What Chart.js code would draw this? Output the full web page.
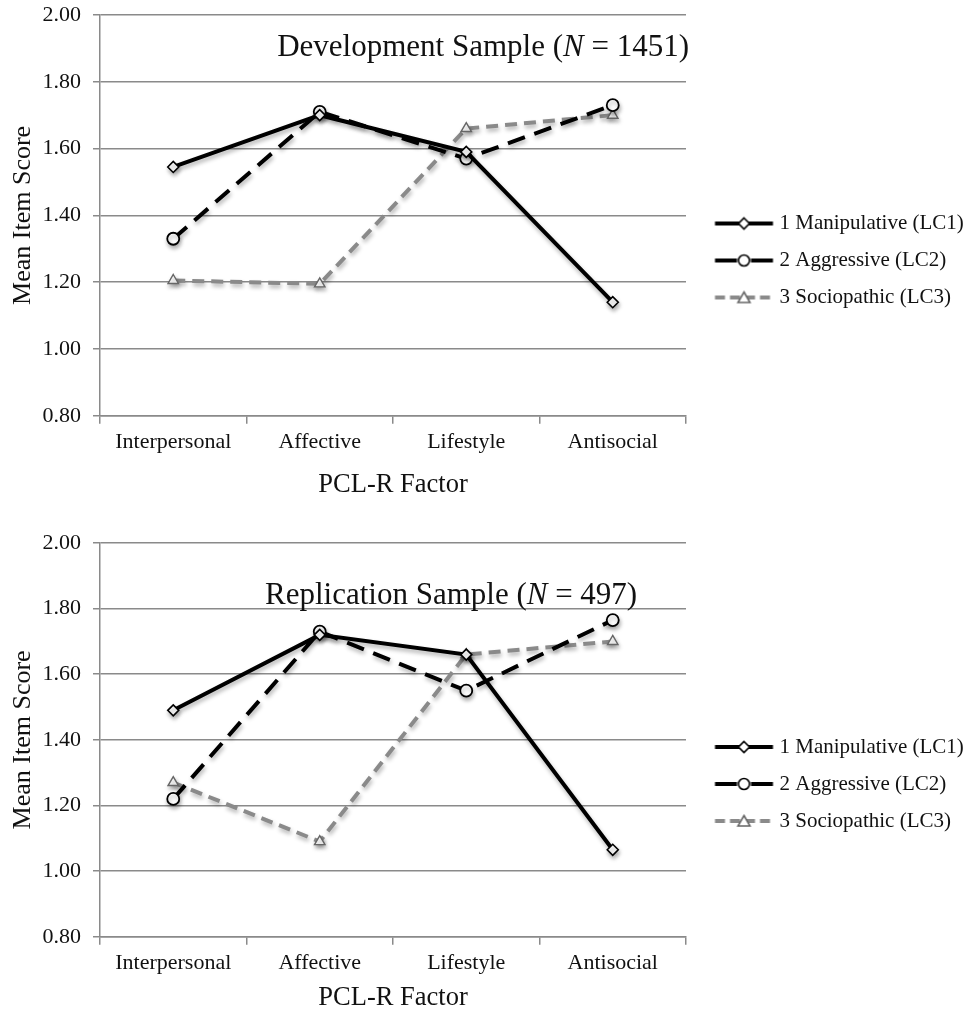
<!DOCTYPE html>
<html>
<head>
<meta charset="utf-8">
<script src="https://cdn.jsdelivr.net/npm/chart.js@4.4.0/dist/chart.umd.min.js"></script>
<style>
  body { margin: 0; background: #fff; }
  #top { position: absolute; left: 0; top: 0; width: 972px; height: 505px; }
  #bottom { position: absolute; left: 0; top: 505px; width: 972px; height: 505px; }
</style>
</head>
<body>
<div id="top"><canvas id="devChart"></canvas></div>
<div id="bottom"><canvas id="repChart"></canvas></div>
<script>
'use strict';

// data
const factors = ['Interpersonal', 'Affective', 'Lifestyle', 'Antisocial'];
const classNames = ['1 Manipulative (LC1)', '2 Aggressive (LC2)', '3 Sociopathic (LC3)'];
const yMin = 0.8;
const yMax = 2.0;
const yStep = 0.2;

const devLC1 = [1.545, 1.70, 1.59, 1.14];
const devLC2 = [1.33, 1.71, 1.57, 1.73];
const devLC3 = [1.205, 1.195, 1.66, 1.70];

const repLC1 = [1.49, 1.72, 1.66, 1.065];
const repLC2 = [1.22, 1.73, 1.55, 1.765];
const repLC3 = [1.27, 1.09, 1.66, 1.70];

const GRAY = '#8a8a8a';
const FONT = "'Liberation Serif', 'Times New Roman', serif";

Chart.defaults.font.family = FONT;
Chart.defaults.color = '#111';

// legend icon: line with the marker in the middle (icon sits right of centre in a wider canvas)
function makeIcon(color, dashed, marker) {
  const c = document.createElement('canvas');
  c.width = 120;
  c.height = 16;
  const g = c.getContext('2d');
  const x0 = 39.5;
  const mid = x0 + 29;
  g.strokeStyle = color;
  g.lineWidth = 4;
  if (dashed === 'long') {
    g.beginPath(); g.moveTo(x0, 8); g.lineTo(x0 + 22, 8); g.stroke();
    g.beginPath(); g.moveTo(x0 + 36, 8); g.lineTo(x0 + 58, 8); g.stroke();
  } else if (dashed === 'short') {
    g.setLineDash([10, 5]);
    g.beginPath(); g.moveTo(x0, 8); g.lineTo(x0 + 58, 8); g.stroke();
    g.setLineDash([]);
  } else {
    g.beginPath(); g.moveTo(x0, 8); g.lineTo(x0 + 58, 8); g.stroke();
  }
  g.lineWidth = 1.6;
  g.fillStyle = '#fff';
  g.strokeStyle = color === GRAY ? '#666' : '#000';
  g.beginPath();
  if (marker === 'diamond') {
    g.moveTo(mid, 2.5); g.lineTo(mid + 5.5, 8); g.lineTo(mid, 13.5); g.lineTo(mid - 5.5, 8); g.closePath();
  } else if (marker === 'circle') {
    g.arc(mid, 8, 5.5, 0, Math.PI * 2);
  } else {
    g.moveTo(mid, 2.5); g.lineTo(mid + 6, 13); g.lineTo(mid - 6, 13); g.closePath();
  }
  g.fill();
  g.stroke();
  return c;
}

const icons = [
  makeIcon('#000', 'none', 'diamond'),
  makeIcon('#000', 'long', 'circle'),
  makeIcon(GRAY, 'short', 'triangle')
];

// soft drop shadow like the original figure
const softShadow = {
  id: 'softShadow',
  beforeDatasetsDraw(chart) {
    const ctx = chart.ctx;
    ctx.save();
    ctx.shadowColor = 'rgba(0,0,0,0.3)';
    ctx.shadowBlur = 4;
    ctx.shadowOffsetX = 1;
    ctx.shadowOffsetY = 3;
  },
  afterDatasetsDraw(chart) {
    chart.ctx.restore();
  }
};

// title with italic N, drawn inside the plot area
const sampleTitle = {
  id: 'sampleTitle',
  afterDraw(chart, args, opts) {
    const ctx = chart.ctx;
    const area = chart.chartArea;
    const parts = opts.parts;
    ctx.save();
    ctx.fillStyle = '#111';
    ctx.textBaseline = 'middle';
    const widths = parts.map(p => {
      ctx.font = (p.italic ? 'italic ' : '') + opts.size + 'px ' + FONT;
      return ctx.measureText(p.text).width;
    });
    const total = widths.reduce((a, b) => a + b, 0);
    let x = opts.align === 'right' ? area.right - opts.dx - total : area.left + opts.dx;
    const y = area.top + opts.dy;
    parts.forEach((p, i) => {
      ctx.font = (p.italic ? 'italic ' : '') + opts.size + 'px ' + FONT;
      ctx.fillText(p.text, x, y);
      x += widths[i];
    });
    ctx.restore();
  }
};

function buildChart(id, lc1, lc2, lc3, titleOpts, padding, legendTitle, xTitlePad) {
  const chartObj = {
    type: 'line',
    data: {
      labels: factors,
      datasets: [
        {
          label: classNames[0],
          data: lc1,
          borderColor: '#000',
          borderWidth: 4,
          pointStyle: 'rectRot',
          pointRadius: 5.5,
          pointBackgroundColor: '#fff',
          pointBorderColor: '#000',
          pointBorderWidth: 1.6
        },
        {
          label: classNames[1],
          data: lc2,
          borderColor: '#000',
          borderWidth: 4,
          borderDash: [18, 10],
          pointStyle: 'circle',
          pointRadius: 6,
          pointBackgroundColor: '#fff',
          pointBorderColor: '#000',
          pointBorderWidth: 1.8
        },
        {
          label: classNames[2],
          data: lc3,
          borderColor: GRAY,
          borderWidth: 4,
          borderDash: [12, 7],
          pointStyle: 'triangle',
          pointRadius: 6,
          pointBackgroundColor: '#fff',
          pointBorderColor: '#666',
          pointBorderWidth: 1.4
        }
      ]
    },
    options: {
      responsive: true,
      maintainAspectRatio: false,
      animation: false,
      layout: { padding: padding },
      plugins: {
        tooltip: { enabled: false },
        sampleTitle: titleOpts,
        legend: {
          position: 'right',
          maxWidth: 281,
          title: { display: true, text: ' ', font: { size: legendTitle.size, lineHeight: 1 }, padding: legendTitle.pad },
          labels: {
            usePointStyle: true,
            pointStyleWidth: 67,
            boxHeight: 16,
            padding: 16,
            color: '#111',
            font: { size: 21 },
            generateLabels: (chart) => chart.data.datasets.map((ds, i) => ({
              text: ds.label,
              pointStyle: icons[i],
              datasetIndex: i,
              lineWidth: 0,
              fillStyle: '#fff',
              strokeStyle: '#fff'
            }))
          }
        }
      },
      scales: {
        x: {
          offset: true,
          grid: {
            offset: true,
            drawOnChartArea: false,
            color: GRAY,
            lineWidth: 1.5,
            tickLength: 8
          },
          border: { color: GRAY, width: 1.5 },
          ticks: { font: { size: 22 }, color: '#111', padding: 5 },
          title: {
            display: true,
            text: 'PCL-R Factor',
            font: { size: 26.5, lineHeight: 0.9 },
            color: '#111',
            padding: xTitlePad
          }
        },
        y: {
          min: yMin,
          max: yMax,
          afterFit: (scale) => {
            scale.width = 92;
            scale.paddingTop = 13;
            scale.paddingBottom = 0;
          },
          grid: { color: GRAY, lineWidth: 1.5, tickLength: 7 },
          border: { color: GRAY, width: 1.5 },
          ticks: {
            stepSize: yStep,
            font: { size: 22 },
            color: '#111',
            padding: 12,
            callback: (v) => v.toFixed(2)
          },
          title: {
            display: true,
            text: 'Mean Item Score',
            font: { size: 26 },
            color: '#111',
            padding: { top: 0, bottom: 4 }
          }
        }
      }
    },
    plugins: [softShadow, sampleTitle]
  };
  return new Chart(document.getElementById(id), chartObj);
}

buildChart('devChart', devLC1, devLC2, devLC3,
  { parts: [{ text: 'Development Sample (' }, { text: 'N', italic: true }, { text: ' = 1451)' }], size: 31, align: 'right', dx: -3, dy: 33 },
  { top: 15, left: 8, right: 5, bottom: 8 },
  { size: 9, pad: 0 },
  { top: 13, bottom: 0 });

buildChart('repChart', repLC1, repLC2, repLC3,
  { parts: [{ text: 'Replication Sample (' }, { text: 'N', italic: true }, { text: ' = 497)' }], size: 31, align: 'left', dx: 165, dy: 53 },
  { top: 38, left: 8, right: 5, bottom: 0 },
  { size: 10, pad: 2.5 },
  { top: 5, bottom: 0 });
</script>
</body>
</html>
